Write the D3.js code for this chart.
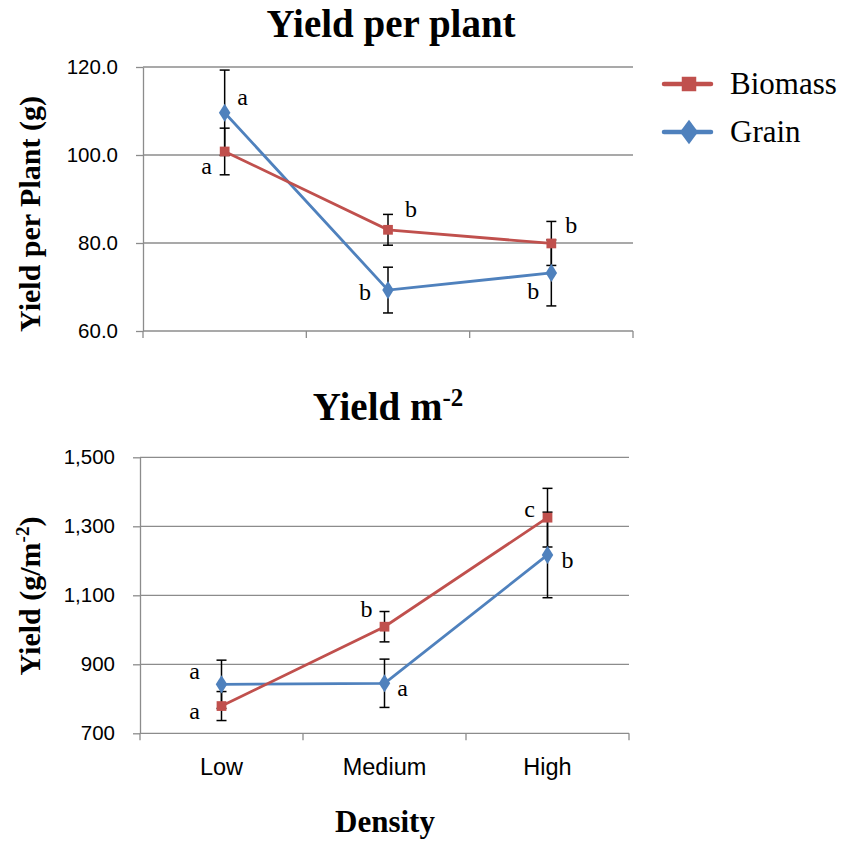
<!DOCTYPE html>
<html>
<head>
<meta charset="utf-8">
<script src="https://cdn.jsdelivr.net/npm/d3@7"></script>
<style>
  body { margin: 0; background: #fff; }
  svg { display: block; }
</style>
</head>
<body>
<script>
// data
var categories = ["Low", "Medium", "High"];

var plantBiomass = [100.8, 83.0, 79.9];
var plantBiomassErr = [5.3, 3.5, 5.0];
var plantGrain = [109.6, 69.3, 73.2];
var plantGrainErr = [9.7, 5.2, 7.5];
var plantBiomassLetters = ["a", "b", "b"];
var plantGrainLetters = ["a", "b", "b"];
var plantTicks = [60, 80, 100, 120];

var areaBiomass = [779, 1009, 1325];
var areaBiomassErr = [42, 44, 85];
var areaGrain = [842, 845, 1217];
var areaGrainErr = [70, 70, 124];
var areaBiomassLetters = ["a", "b", "c"];
var areaGrainLetters = ["a", "a", "b"];
var areaTicks = [700, 900, 1100, 1300, 1500];

var seriesNames = ["Biomass", "Grain"];

var RED = "#c0504d", BLUE = "#4f81bd", GRID = "#8c8c8c";
var SERIF = "'Liberation Serif','Times New Roman',serif";
var SANS = "'Liberation Sans',Arial,sans-serif";

var Width = 842, Height = 848;

var svg = d3.select("body").append("svg")
	.attr("width", Width)
	.attr("height", Height);

// one panel
function panel(opt) {
	var x = d3.scaleBand().domain(categories).range([opt.left, opt.right]);
	var y = d3.scaleLinear().domain(opt.domain).range([opt.bottom, opt.top]);
	var g = svg.append("g");

	// gridlines
	g.selectAll("line.grid").data(opt.ticks.slice(1)).enter().append("line")
		.attr("x1", opt.left).attr("x2", opt.right)
		.attr("y1", function(d) { return y(d); })
		.attr("y2", function(d) { return y(d); })
		.attr("stroke", GRID).attr("stroke-width", 1.3);

	// y axis
	var ya = g.append("g")
		.attr("transform", "translate(" + opt.left + ",0)")
		.call(d3.axisLeft(y).tickValues(opt.ticks).tickFormat(d3.format(opt.fmt))
			.tickSizeInner(7).tickSizeOuter(0).tickPadding(18));
	ya.select(".domain").attr("stroke", GRID).attr("stroke-width", 1.3);
	ya.selectAll(".tick line").attr("stroke", GRID).attr("stroke-width", 1.3);
	ya.selectAll(".tick text").attr("font-family", SANS).attr("font-size", 20.5).attr("fill", "#000");

	// x axis baseline and category boundary ticks
	g.append("line")
		.attr("x1", opt.left).attr("x2", opt.right)
		.attr("y1", opt.bottom).attr("y2", opt.bottom)
		.attr("stroke", GRID).attr("stroke-width", 1.3);
	var bounds = [opt.left].concat(categories.map(function(c) { return x(c) + x.bandwidth(); }));
	g.selectAll("line.xt").data(bounds).enter().append("line")
		.attr("x1", function(d) { return d; }).attr("x2", function(d) { return d; })
		.attr("y1", opt.bottom).attr("y2", opt.bottom + 7)
		.attr("stroke", GRID).attr("stroke-width", 1.3);

	if (opt.showCats) {
		g.selectAll("text.cat").data(categories).enter().append("text")
			.attr("x", function(d) { return x(d) + x.bandwidth() / 2; })
			.attr("y", opt.bottom + 42)
			.attr("text-anchor", "middle")
			.attr("font-family", SANS).attr("font-size", 23.5)
			.text(function(d) { return d; });
	}

	var cx = function(d, i) { return x(categories[i]) + x.bandwidth() / 2; };
	var line = d3.line()
		.x(function(d, i) { return x(categories[i]) + x.bandwidth() / 2; })
		.y(function(d) { return y(d); });

	// series drawn grain first, biomass on top
	var series = [
		{vals: opt.grain, err: opt.grainErr, color: BLUE, mark: "diamond", letters: opt.grainLetters, off: opt.grainOff},
		{vals: opt.biomass, err: opt.biomassErr, color: RED, mark: "square", letters: opt.biomassLetters, off: opt.biomassOff}
	];

	// error bars (behind the lines)
	series.forEach(function(s) {
		var eb = g.append("g");
		s.vals.forEach(function(v, i) {
			var px = cx(v, i);
			eb.append("line").attr("x1", px).attr("x2", px)
				.attr("y1", y(v - s.err[i])).attr("y2", y(v + s.err[i]))
				.attr("stroke", "#000").attr("stroke-width", 1.5);
			[v - s.err[i], v + s.err[i]].forEach(function(e) {
				eb.append("line").attr("x1", px - 5).attr("x2", px + 5)
					.attr("y1", y(e)).attr("y2", y(e))
					.attr("stroke", "#000").attr("stroke-width", 1.5);
			});
		});
	});

	series.forEach(function(s) {
		g.append("path").datum(s.vals)
			.attr("d", line)
			.attr("fill", "none").attr("stroke", s.color).attr("stroke-width", 2.8);
		var sym = s.mark == "square" ? d3.symbolSquare : d3.symbolDiamond;
		var size = s.mark == "square" ? 95 : 95;
		g.selectAll(null).data(s.vals).enter().append("path")
			.attr("d", d3.symbol().type(sym).size(size))
			.attr("transform", function(d, i) {
				return "translate(" + cx(d, i) + "," + y(d) + ")" + (s.mark == "diamond" ? " scale(1.1,1)" : "");
			})
			.attr("fill", s.color);
		g.selectAll(null).data(s.vals).enter().append("text")
			.attr("x", function(d, i) { return cx(d, i) + s.off[i][0]; })
			.attr("y", function(d, i) { return y(d) + s.off[i][1]; })
			.attr("text-anchor", "middle")
			.attr("font-family", SERIF).attr("font-size", 24)
			.text(function(d, i) { return s.letters[i]; });
	});
	return g;
}

// top panel: yield per plant
panel({
	left: 143, right: 633, top: 67, bottom: 331,
	domain: [60, 120], ticks: plantTicks, fmt: ".1f", showCats: false,
	biomass: plantBiomass, biomassErr: plantBiomassErr, biomassLetters: plantBiomassLetters,
	grain: plantGrain, grainErr: plantGrainErr, grainLetters: plantGrainLetters,
	biomassOff: [[-18, 23], [23, -13], [20, -10]],
	grainOff: [[18, -8], [-23, 10], [-18, 26]]
});

// bottom panel: yield per m2
panel({
	left: 140, right: 629, top: 457.3, bottom: 733.3,
	domain: [700, 1500], ticks: areaTicks, fmt: ",.0f", showCats: true,
	biomass: areaBiomass, biomassErr: areaBiomassErr, biomassLetters: areaBiomassLetters,
	grain: areaGrain, grainErr: areaGrainErr, grainLetters: areaGrainLetters,
	biomassOff: [[-27, 13], [-18, -10], [-18, -1]],
	grainOff: [[-27, -5], [18, 13], [20, 13]]
});

// titles
svg.append("text").attr("x", 391).attr("y", 37)
	.attr("text-anchor", "middle").attr("font-family", SERIF)
	.attr("font-weight", "bold").attr("font-size", 39)
	.text("Yield per plant");

var t2 = svg.append("text").attr("x", 388).attr("y", 420)
	.attr("text-anchor", "middle").attr("font-family", SERIF)
	.attr("font-weight", "bold").attr("font-size", 39);
t2.append("tspan").text("Yield m");
t2.append("tspan").attr("dy", -14).attr("font-size", 25).text("-2");

// y axis titles
svg.append("text")
	.attr("transform", "translate(40,214) rotate(-90)")
	.attr("text-anchor", "middle").attr("font-family", SERIF)
	.attr("font-weight", "bold").attr("font-size", 30)
	.text("Yield per Plant (g)");

var yt = svg.append("text")
	.attr("transform", "translate(40,596) rotate(-90)")
	.attr("text-anchor", "middle").attr("font-family", SERIF)
	.attr("font-weight", "bold").attr("font-size", 30);
yt.append("tspan").text("Yield (g/m");
yt.append("tspan").attr("dy", -11).attr("font-size", 19).text("-2");
yt.append("tspan").attr("dy", 11).text(")");

// x axis title
svg.append("text").attr("x", 385).attr("y", 832)
	.attr("text-anchor", "middle").attr("font-family", SERIF)
	.attr("font-weight", "bold").attr("font-size", 31)
	.text("Density");

// legend
var legend = svg.append("g");
var legColors = [RED, BLUE];
seriesNames.forEach(function(name, i) {
	var ly = 84 + i * 48;
	legend.append("line").attr("x1", 664).attr("x2", 711)
		.attr("y1", ly).attr("y2", ly)
		.attr("stroke", legColors[i]).attr("stroke-width", 4.5).attr("stroke-linecap", "round");
	legend.append("path")
		.attr("d", d3.symbol().type(i == 0 ? d3.symbolSquare : d3.symbolDiamond).size(i == 0 ? 210 : 170))
		.attr("transform", "translate(689," + ly + ")" + (i == 1 ? " scale(1.3,1)" : ""))
		.attr("fill", legColors[i]);
	legend.append("text").attr("x", 730).attr("y", ly + 10)
		.attr("font-family", SERIF).attr("font-size", 31)
		.text(name);
});
</script>
</body>
</html>
